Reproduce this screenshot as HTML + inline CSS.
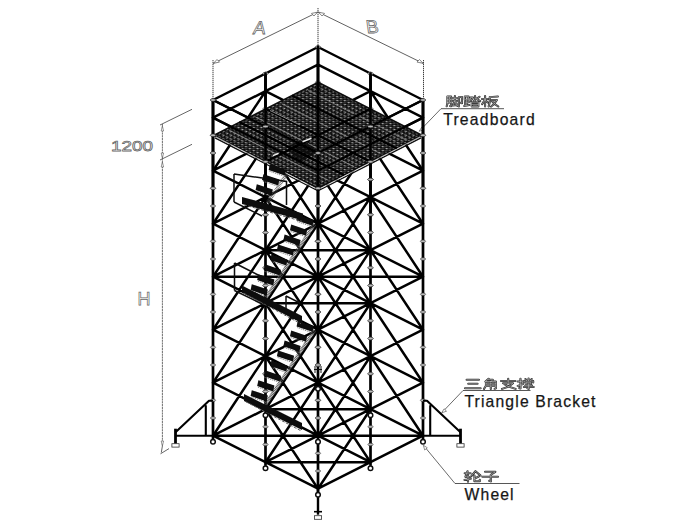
<!DOCTYPE html>
<html><head><meta charset="utf-8"><title>Scaffold tower</title>
<style>html,body{margin:0;padding:0;background:#fff;}body{width:700px;height:525px;overflow:hidden;font-family:"Liberation Sans",sans-serif;}svg{display:block;}</style>
</head><body>
<svg width="700" height="525" viewBox="0 0 700 525">
<defs>
<pattern id="mesh" width="3.8" height="3.8" patternUnits="userSpaceOnUse" patternTransform="matrix(1 0.505 -1 0.505 318 82)">
<rect width="3.8" height="3.8" fill="#0c0c0c"/>
<rect x="0.4" y="0.5" width="2.1" height="1.3" fill="#a8a8a8"/>
<rect x="2.3" y="2.4" width="1.2" height="1.0" fill="#707070"/>
</pattern>
<filter id="soft" x="-5%" y="-5%" width="110%" height="110%"><feGaussianBlur stdDeviation="0.45"/></filter>
</defs>
<rect width="700" height="525" fill="#ffffff"/>
<line x1="213.0" y1="63.5" x2="318.0" y2="12.0" stroke="#444" stroke-width="0.85"/>
<line x1="318.0" y1="12.0" x2="423.5" y2="63.5" stroke="#444" stroke-width="0.85"/>
<line x1="213.0" y1="60.0" x2="213.0" y2="98.0" stroke="#333" stroke-width="0.95" stroke-dasharray="1.3 0.7"/>
<line x1="318.0" y1="8.0" x2="318.0" y2="46.0" stroke="#333" stroke-width="0.95" stroke-dasharray="1.3 0.7"/>
<line x1="423.5" y1="60.0" x2="423.5" y2="98.0" stroke="#333" stroke-width="0.95" stroke-dasharray="1.3 0.7"/>
<path d="M213.5 63.3 l6 -1.2 l-2.5 -2.6 z M317.5 12.2 l-6 1.2 l2.5 2.6 z M318.5 12.2 l6 1.2 l-2.5 2.6 z M423 63.3 l-6 -1.2 l2.5 -2.6 z" fill="#fff" stroke="#555" stroke-width="0.7"/>
<line x1="160.0" y1="125.0" x2="192.0" y2="109.3" stroke="#4a4a4a" stroke-width="0.85"/>
<line x1="160.0" y1="160.0" x2="192.0" y2="144.3" stroke="#4a4a4a" stroke-width="0.85"/>
<line x1="162.4" y1="124.0" x2="162.4" y2="446.0" stroke="#4a4a4a" stroke-width="0.8" stroke-dasharray="2.2 0.6"/>
<path d="M162.4 126 l-1.2 5 l2.4 0 z M162.4 158 l-1.2 -5 l2.4 0 z M162.4 162 l-1.2 5 l2.4 0 z M162.4 446 l-1.2 -5 l2.4 0 z" fill="#fff" stroke="#555" stroke-width="0.6"/>
<line x1="160.5" y1="453.8" x2="169.0" y2="448.6" stroke="#4a4a4a" stroke-width="0.85"/>
<line x1="161.3" y1="452.5" x2="162.4" y2="446.0" stroke="#4a4a4a" stroke-width="0.85"/>
<line x1="441.0" y1="108.7" x2="504.0" y2="108.7" stroke="#444" stroke-width="0.9"/>
<line x1="441.0" y1="108.7" x2="420.0" y2="130.5" stroke="#444" stroke-width="0.8"/>
<line x1="463.0" y1="390.5" x2="530.5" y2="390.5" stroke="#444" stroke-width="0.9"/>
<line x1="463.0" y1="390.5" x2="442.5" y2="412.0" stroke="#444" stroke-width="0.8"/>
<line x1="455.0" y1="483.5" x2="519.5" y2="483.5" stroke="#444" stroke-width="0.9"/>
<line x1="455.0" y1="483.5" x2="424.0" y2="446.0" stroke="#444" stroke-width="0.8"/>
<path d="M419.2 131.3 l4.6 -1.6 l-2.2 -2.4 z M441.7 412.8 l4.8 -1.6 l-2.4 -2.4 z M423.3 445.2 l1.4 4.8 l2.6 -2.2 z" fill="#fff" stroke="#444" stroke-width="0.6"/>
<g filter="url(#soft)">
<g stroke="#050505" stroke-width="2.6" stroke-linecap="round" fill="none">
<path d="M213.0 117.7L265.5 144.2M213.0 117.7L265.5 91.2M213.0 170.7L265.5 197.2M213.0 170.7L265.5 144.2M213.0 223.7L265.5 250.2M213.0 223.7L265.5 197.2M213.0 276.7L265.5 303.2M213.0 276.7L265.5 250.2M213.0 329.7L265.5 356.2M213.0 329.7L265.5 303.2M213.0 382.7L265.5 409.2M213.0 382.7L265.5 356.2M213.0 435.7L265.5 462.2M213.0 435.7L265.5 409.2M265.5 91.2L318.0 117.7M265.5 91.2L318.0 64.7M265.5 144.2L318.0 170.7M265.5 144.2L318.0 117.7M265.5 197.2L318.0 223.7M265.5 197.2L318.0 170.7M265.5 250.2L318.0 276.7M265.5 250.2L318.0 223.7M265.5 303.2L318.0 329.7M265.5 303.2L318.0 276.7M265.5 356.2L318.0 382.7M265.5 356.2L318.0 329.7M265.5 409.2L318.0 435.7M265.5 409.2L318.0 382.7M265.5 462.2L318.0 488.7M265.5 462.2L318.0 435.7M318.0 64.7L370.5 91.2M318.0 117.7L370.5 144.2M318.0 117.7L370.5 91.2M318.0 170.7L370.5 197.2M318.0 170.7L370.5 144.2M318.0 223.7L370.5 250.2M318.0 223.7L370.5 197.2M318.0 276.7L370.5 303.2M318.0 276.7L370.5 250.2M318.0 329.7L370.5 356.2M318.0 329.7L370.5 303.2M318.0 382.7L370.5 409.2M318.0 382.7L370.5 356.2M318.0 435.7L370.5 462.2M318.0 435.7L370.5 409.2M318.0 488.7L370.5 462.2M370.5 91.2L423.0 117.7M370.5 144.2L423.0 170.7M370.5 144.2L423.0 117.7M370.5 197.2L423.0 223.7M370.5 197.2L423.0 170.7M370.5 250.2L423.0 276.7M370.5 250.2L423.0 223.7M370.5 303.2L423.0 329.7M370.5 303.2L423.0 276.7M370.5 356.2L423.0 382.7M370.5 356.2L423.0 329.7M370.5 409.2L423.0 435.7M370.5 409.2L423.0 382.7M370.5 462.2L423.0 435.7M213.0 100.0L318.0 47.0M318.0 47.0L423.0 100.0M423.0 100.0L318.0 153.0M318.0 153.0L213.0 100.0M213.0 170.7L265.5 91.2M213.0 223.7L265.5 144.2M213.0 276.7L265.5 197.2M213.0 329.7L265.5 250.2M213.0 382.7L265.5 303.2M213.0 435.7L265.5 356.2M370.5 91.2L423.0 170.7M370.5 144.2L423.0 223.7M370.5 197.2L423.0 276.7M370.5 250.2L423.0 329.7M370.5 303.2L423.0 382.7M370.5 356.2L423.0 435.7M318.0 223.7L370.5 144.2M318.0 223.7L265.5 144.2M318.0 276.7L370.5 197.2M318.0 276.7L265.5 197.2M318.0 329.7L370.5 250.2M318.0 329.7L265.5 250.2M318.0 382.7L370.5 303.2M318.0 382.7L265.5 303.2M318.0 435.7L370.5 356.2M318.0 435.7L265.5 356.2M318.0 488.7L370.5 409.2M318.0 488.7L265.5 409.2M318.0 170.7L370.5 250.2M318.0 170.7L265.5 250.2M318.0 223.7L370.5 303.2M318.0 223.7L265.5 303.2M318.0 276.7L370.5 356.2M318.0 276.7L265.5 356.2M318.0 329.7L370.5 409.2M318.0 329.7L265.5 409.2M318.0 382.7L370.5 462.2M318.0 382.7L265.5 462.2M213.0 276.7L423.0 276.7M265.5 250.2L370.5 250.2M265.5 303.2L370.5 303.2M213.0 435.7L423.0 435.7M265.5 409.2L370.5 409.2M265.5 462.2L370.5 462.2" stroke-width="2.45"/>
<path d="M318.0 46.5L318.0 385.7M265.5 73.0L265.5 412.2M213.0 99.5L213.0 438.7M370.5 73.0L370.5 412.2M318.0 99.5L318.0 438.7M265.5 126.0L265.5 465.2M423.0 99.5L423.0 438.7M370.5 126.0L370.5 465.2M318.0 152.5L318.0 491.7" stroke-width="2.7"/>
</g>
<g fill="#bdbdbd" stroke="#222" stroke-width="0.5"><ellipse cx="318.0" cy="47.0" rx="2.7" ry="1.25"/><ellipse cx="318.0" cy="82.3" rx="2.7" ry="1.25"/><ellipse cx="318.0" cy="100.0" rx="2.7" ry="1.25"/><ellipse cx="318.0" cy="135.3" rx="2.7" ry="1.25"/><ellipse cx="318.0" cy="153.0" rx="2.7" ry="1.25"/><ellipse cx="318.0" cy="188.3" rx="2.7" ry="1.25"/><ellipse cx="318.0" cy="206.0" rx="2.7" ry="1.25"/><ellipse cx="318.0" cy="241.3" rx="2.7" ry="1.25"/><ellipse cx="318.0" cy="259.0" rx="2.7" ry="1.25"/><ellipse cx="318.0" cy="294.3" rx="2.7" ry="1.25"/><ellipse cx="318.0" cy="312.0" rx="2.7" ry="1.25"/><ellipse cx="318.0" cy="347.3" rx="2.7" ry="1.25"/><ellipse cx="318.0" cy="365.0" rx="2.7" ry="1.25"/><ellipse cx="265.5" cy="73.5" rx="2.7" ry="1.25"/><ellipse cx="265.5" cy="108.8" rx="2.7" ry="1.25"/><ellipse cx="265.5" cy="126.5" rx="2.7" ry="1.25"/><ellipse cx="265.5" cy="161.8" rx="2.7" ry="1.25"/><ellipse cx="265.5" cy="179.5" rx="2.7" ry="1.25"/><ellipse cx="265.5" cy="214.8" rx="2.7" ry="1.25"/><ellipse cx="265.5" cy="232.5" rx="2.7" ry="1.25"/><ellipse cx="265.5" cy="267.8" rx="2.7" ry="1.25"/><ellipse cx="265.5" cy="285.5" rx="2.7" ry="1.25"/><ellipse cx="265.5" cy="320.8" rx="2.7" ry="1.25"/><ellipse cx="265.5" cy="338.5" rx="2.7" ry="1.25"/><ellipse cx="265.5" cy="373.8" rx="2.7" ry="1.25"/><ellipse cx="265.5" cy="391.5" rx="2.7" ry="1.25"/><ellipse cx="213.0" cy="100.0" rx="2.7" ry="1.25"/><ellipse cx="213.0" cy="135.3" rx="2.7" ry="1.25"/><ellipse cx="213.0" cy="153.0" rx="2.7" ry="1.25"/><ellipse cx="213.0" cy="188.3" rx="2.7" ry="1.25"/><ellipse cx="213.0" cy="206.0" rx="2.7" ry="1.25"/><ellipse cx="213.0" cy="241.3" rx="2.7" ry="1.25"/><ellipse cx="213.0" cy="259.0" rx="2.7" ry="1.25"/><ellipse cx="213.0" cy="294.3" rx="2.7" ry="1.25"/><ellipse cx="213.0" cy="312.0" rx="2.7" ry="1.25"/><ellipse cx="213.0" cy="347.3" rx="2.7" ry="1.25"/><ellipse cx="213.0" cy="365.0" rx="2.7" ry="1.25"/><ellipse cx="213.0" cy="400.3" rx="2.7" ry="1.25"/><ellipse cx="213.0" cy="418.0" rx="2.7" ry="1.25"/><ellipse cx="370.5" cy="73.5" rx="2.7" ry="1.25"/><ellipse cx="370.5" cy="108.8" rx="2.7" ry="1.25"/><ellipse cx="370.5" cy="126.5" rx="2.7" ry="1.25"/><ellipse cx="370.5" cy="161.8" rx="2.7" ry="1.25"/><ellipse cx="370.5" cy="179.5" rx="2.7" ry="1.25"/><ellipse cx="370.5" cy="214.8" rx="2.7" ry="1.25"/><ellipse cx="370.5" cy="232.5" rx="2.7" ry="1.25"/><ellipse cx="370.5" cy="267.8" rx="2.7" ry="1.25"/><ellipse cx="370.5" cy="285.5" rx="2.7" ry="1.25"/><ellipse cx="370.5" cy="320.8" rx="2.7" ry="1.25"/><ellipse cx="370.5" cy="338.5" rx="2.7" ry="1.25"/><ellipse cx="370.5" cy="373.8" rx="2.7" ry="1.25"/><ellipse cx="370.5" cy="391.5" rx="2.7" ry="1.25"/><ellipse cx="318.0" cy="100.0" rx="2.7" ry="1.25"/><ellipse cx="318.0" cy="135.3" rx="2.7" ry="1.25"/><ellipse cx="318.0" cy="153.0" rx="2.7" ry="1.25"/><ellipse cx="318.0" cy="188.3" rx="2.7" ry="1.25"/><ellipse cx="318.0" cy="206.0" rx="2.7" ry="1.25"/><ellipse cx="318.0" cy="241.3" rx="2.7" ry="1.25"/><ellipse cx="318.0" cy="259.0" rx="2.7" ry="1.25"/><ellipse cx="318.0" cy="294.3" rx="2.7" ry="1.25"/><ellipse cx="318.0" cy="312.0" rx="2.7" ry="1.25"/><ellipse cx="318.0" cy="347.3" rx="2.7" ry="1.25"/><ellipse cx="318.0" cy="365.0" rx="2.7" ry="1.25"/><ellipse cx="318.0" cy="400.3" rx="2.7" ry="1.25"/><ellipse cx="318.0" cy="418.0" rx="2.7" ry="1.25"/><ellipse cx="265.5" cy="126.5" rx="2.7" ry="1.25"/><ellipse cx="265.5" cy="161.8" rx="2.7" ry="1.25"/><ellipse cx="265.5" cy="179.5" rx="2.7" ry="1.25"/><ellipse cx="265.5" cy="214.8" rx="2.7" ry="1.25"/><ellipse cx="265.5" cy="232.5" rx="2.7" ry="1.25"/><ellipse cx="265.5" cy="267.8" rx="2.7" ry="1.25"/><ellipse cx="265.5" cy="285.5" rx="2.7" ry="1.25"/><ellipse cx="265.5" cy="320.8" rx="2.7" ry="1.25"/><ellipse cx="265.5" cy="338.5" rx="2.7" ry="1.25"/><ellipse cx="265.5" cy="373.8" rx="2.7" ry="1.25"/><ellipse cx="265.5" cy="391.5" rx="2.7" ry="1.25"/><ellipse cx="265.5" cy="426.8" rx="2.7" ry="1.25"/><ellipse cx="265.5" cy="444.5" rx="2.7" ry="1.25"/><ellipse cx="423.0" cy="100.0" rx="2.7" ry="1.25"/><ellipse cx="423.0" cy="135.3" rx="2.7" ry="1.25"/><ellipse cx="423.0" cy="153.0" rx="2.7" ry="1.25"/><ellipse cx="423.0" cy="188.3" rx="2.7" ry="1.25"/><ellipse cx="423.0" cy="206.0" rx="2.7" ry="1.25"/><ellipse cx="423.0" cy="241.3" rx="2.7" ry="1.25"/><ellipse cx="423.0" cy="259.0" rx="2.7" ry="1.25"/><ellipse cx="423.0" cy="294.3" rx="2.7" ry="1.25"/><ellipse cx="423.0" cy="312.0" rx="2.7" ry="1.25"/><ellipse cx="423.0" cy="347.3" rx="2.7" ry="1.25"/><ellipse cx="423.0" cy="365.0" rx="2.7" ry="1.25"/><ellipse cx="423.0" cy="400.3" rx="2.7" ry="1.25"/><ellipse cx="423.0" cy="418.0" rx="2.7" ry="1.25"/><ellipse cx="370.5" cy="126.5" rx="2.7" ry="1.25"/><ellipse cx="370.5" cy="161.8" rx="2.7" ry="1.25"/><ellipse cx="370.5" cy="179.5" rx="2.7" ry="1.25"/><ellipse cx="370.5" cy="214.8" rx="2.7" ry="1.25"/><ellipse cx="370.5" cy="232.5" rx="2.7" ry="1.25"/><ellipse cx="370.5" cy="267.8" rx="2.7" ry="1.25"/><ellipse cx="370.5" cy="285.5" rx="2.7" ry="1.25"/><ellipse cx="370.5" cy="320.8" rx="2.7" ry="1.25"/><ellipse cx="370.5" cy="338.5" rx="2.7" ry="1.25"/><ellipse cx="370.5" cy="373.8" rx="2.7" ry="1.25"/><ellipse cx="370.5" cy="391.5" rx="2.7" ry="1.25"/><ellipse cx="370.5" cy="426.8" rx="2.7" ry="1.25"/><ellipse cx="370.5" cy="444.5" rx="2.7" ry="1.25"/><ellipse cx="318.0" cy="153.0" rx="2.7" ry="1.25"/><ellipse cx="318.0" cy="188.3" rx="2.7" ry="1.25"/><ellipse cx="318.0" cy="206.0" rx="2.7" ry="1.25"/><ellipse cx="318.0" cy="241.3" rx="2.7" ry="1.25"/><ellipse cx="318.0" cy="259.0" rx="2.7" ry="1.25"/><ellipse cx="318.0" cy="294.3" rx="2.7" ry="1.25"/><ellipse cx="318.0" cy="312.0" rx="2.7" ry="1.25"/><ellipse cx="318.0" cy="347.3" rx="2.7" ry="1.25"/><ellipse cx="318.0" cy="365.0" rx="2.7" ry="1.25"/><ellipse cx="318.0" cy="400.3" rx="2.7" ry="1.25"/><ellipse cx="318.0" cy="418.0" rx="2.7" ry="1.25"/><ellipse cx="318.0" cy="453.3" rx="2.7" ry="1.25"/><ellipse cx="318.0" cy="471.0" rx="2.7" ry="1.25"/></g>
<path d="M318.0 82.3L422.0 135.3L318.0 188.3L214.0 135.3Z" fill="url(#mesh)" stroke="#0a0a0a" stroke-width="1.6"/>
<path d="M215.0 137.9L318.0 190.9L421.0 137.9" fill="none" stroke="#0a0a0a" stroke-width="1.2"/>
<path d="M216.0 136.8L318.0 189.7L420.0 136.8" fill="none" stroke="#e0e0e0" stroke-width="0.7"/>
<path d="M287 147 L305 137.5 L317.5 152 L299 163.5 Z" fill="#050505" fill-opacity="0.72"/>
<path d="M291.8 95.6L396.8 148.6M265.5 108.8L370.5 161.8M239.2 122.1L344.2 175.1M370.5 108.8L265.5 161.8" stroke="#000" stroke-width="2.2" fill="none"/>
<path d="M308.0 90.5L354.2 113.9M360.5 117.0L406.7 140.4M281.8 103.8L328.0 127.1M334.3 130.3L380.5 153.6M255.5 117.0L301.7 140.4M308.0 143.5L354.2 166.9M229.3 130.3L275.5 153.6M281.8 156.8L328.0 180.1" stroke="#8c8c8c" stroke-width="0.8" fill="none"/>
<path d="M213.0 100.0L213.0 188.3M265.5 126.5L265.5 214.8M318.0 153.0L318.0 241.3M370.5 126.5L370.5 214.8M423.0 100.0L423.0 188.3M318.0 100.0L318.0 188.3M318.0 47.0L318.0 135.3M265.5 73.5L265.5 161.8M370.5 73.5L370.5 161.8" stroke="#050505" stroke-width="2.7" fill="none" stroke-linecap="round"/>
<path d="M213.0 100.0L318.0 153.0M318.0 153.0L423.0 100.0M213.0 117.7L318.0 170.7M318.0 170.7L423.0 117.7" stroke="#050505" stroke-width="2.3" fill="none" stroke-linecap="round"/>
<g fill="#bdbdbd" stroke="#222" stroke-width="0.5"><ellipse cx="213.0" cy="100.0" rx="2.7" ry="1.25"/><ellipse cx="213.0" cy="135.3" rx="2.7" ry="1.25"/><ellipse cx="213.0" cy="153.0" rx="2.7" ry="1.25"/><ellipse cx="213.0" cy="188.3" rx="2.7" ry="1.25"/><ellipse cx="265.5" cy="126.5" rx="2.7" ry="1.25"/><ellipse cx="265.5" cy="161.8" rx="2.7" ry="1.25"/><ellipse cx="265.5" cy="179.5" rx="2.7" ry="1.25"/><ellipse cx="265.5" cy="214.8" rx="2.7" ry="1.25"/><ellipse cx="318.0" cy="153.0" rx="2.7" ry="1.25"/><ellipse cx="318.0" cy="188.3" rx="2.7" ry="1.25"/><ellipse cx="318.0" cy="206.0" rx="2.7" ry="1.25"/><ellipse cx="318.0" cy="241.3" rx="2.7" ry="1.25"/><ellipse cx="370.5" cy="126.5" rx="2.7" ry="1.25"/><ellipse cx="370.5" cy="161.8" rx="2.7" ry="1.25"/><ellipse cx="370.5" cy="179.5" rx="2.7" ry="1.25"/><ellipse cx="370.5" cy="214.8" rx="2.7" ry="1.25"/><ellipse cx="423.0" cy="100.0" rx="2.7" ry="1.25"/><ellipse cx="423.0" cy="135.3" rx="2.7" ry="1.25"/><ellipse cx="423.0" cy="153.0" rx="2.7" ry="1.25"/><ellipse cx="423.0" cy="188.3" rx="2.7" ry="1.25"/></g>
<path d="M270 110.5 L300 125" stroke="#9a9a9a" stroke-width="0.9" fill="none"/><path d="M302.5 141.8 L311.5 138.2 M273 155.6 L278.6 153.2" stroke="#eee" stroke-width="1.5" fill="none"/>
<line x1="314.6" y1="224.2" x2="262.1" y2="303.7" stroke="#4a4a4a" stroke-width="3.6" stroke-dasharray="0.8 0.7"/>
<path d="M313.8 220.0 l-16.0 -5.4 l-1.2 5.8 l16.0 5.4 z" fill="#080808"/>
<path d="M297.3 221.6 l14.0 4.8" stroke="#777" stroke-width="0.9" stroke-dasharray="1.2 0.8"/>
<path d="M307.2 229.9 l-16.0 -5.4 l-1.2 5.8 l16.0 5.4 z" fill="#080808"/>
<path d="M290.7 231.5 l14.0 4.8" stroke="#777" stroke-width="0.9" stroke-dasharray="1.2 0.8"/>
<path d="M300.6 239.9 l-16.0 -5.4 l-1.2 5.8 l16.0 5.4 z" fill="#080808"/>
<path d="M284.1 241.4 l14.0 4.8" stroke="#777" stroke-width="0.9" stroke-dasharray="1.2 0.8"/>
<path d="M294.1 249.8 l-16.0 -5.4 l-1.2 5.8 l16.0 5.4 z" fill="#080808"/>
<path d="M277.6 251.4 l14.0 4.8" stroke="#777" stroke-width="0.9" stroke-dasharray="1.2 0.8"/>
<path d="M287.5 259.7 l-16.0 -5.4 l-1.2 5.8 l16.0 5.4 z" fill="#080808"/>
<path d="M271.0 261.3 l14.0 4.8" stroke="#777" stroke-width="0.9" stroke-dasharray="1.2 0.8"/>
<path d="M280.9 269.7 l-16.0 -5.4 l-1.2 5.8 l16.0 5.4 z" fill="#080808"/>
<path d="M264.4 271.2 l14.0 4.8" stroke="#777" stroke-width="0.9" stroke-dasharray="1.2 0.8"/>
<path d="M274.4 279.6 l-16.0 -5.4 l-1.2 5.8 l16.0 5.4 z" fill="#080808"/>
<path d="M257.9 281.2 l14.0 4.8" stroke="#777" stroke-width="0.9" stroke-dasharray="1.2 0.8"/>
<path d="M267.8 289.6 l-16.0 -5.4 l-1.2 5.8 l16.0 5.4 z" fill="#080808"/>
<path d="M251.3 291.1 l14.0 4.8" stroke="#777" stroke-width="0.9" stroke-dasharray="1.2 0.8"/>
<line x1="314.6" y1="330.2" x2="262.1" y2="409.7" stroke="#4a4a4a" stroke-width="3.6" stroke-dasharray="0.8 0.7"/>
<path d="M313.8 326.0 l-16.0 -5.4 l-1.2 5.8 l16.0 5.4 z" fill="#080808"/>
<path d="M297.3 327.6 l14.0 4.8" stroke="#777" stroke-width="0.9" stroke-dasharray="1.2 0.8"/>
<path d="M307.2 335.9 l-16.0 -5.4 l-1.2 5.8 l16.0 5.4 z" fill="#080808"/>
<path d="M290.7 337.5 l14.0 4.8" stroke="#777" stroke-width="0.9" stroke-dasharray="1.2 0.8"/>
<path d="M300.6 345.9 l-16.0 -5.4 l-1.2 5.8 l16.0 5.4 z" fill="#080808"/>
<path d="M284.1 347.4 l14.0 4.8" stroke="#777" stroke-width="0.9" stroke-dasharray="1.2 0.8"/>
<path d="M294.1 355.8 l-16.0 -5.4 l-1.2 5.8 l16.0 5.4 z" fill="#080808"/>
<path d="M277.6 357.4 l14.0 4.8" stroke="#777" stroke-width="0.9" stroke-dasharray="1.2 0.8"/>
<path d="M287.5 365.7 l-16.0 -5.4 l-1.2 5.8 l16.0 5.4 z" fill="#080808"/>
<path d="M271.0 367.3 l14.0 4.8" stroke="#777" stroke-width="0.9" stroke-dasharray="1.2 0.8"/>
<path d="M280.9 375.7 l-16.0 -5.4 l-1.2 5.8 l16.0 5.4 z" fill="#080808"/>
<path d="M264.4 377.2 l14.0 4.8" stroke="#777" stroke-width="0.9" stroke-dasharray="1.2 0.8"/>
<path d="M274.4 385.6 l-16.0 -5.4 l-1.2 5.8 l16.0 5.4 z" fill="#080808"/>
<path d="M257.9 387.2 l14.0 4.8" stroke="#777" stroke-width="0.9" stroke-dasharray="1.2 0.8"/>
<path d="M267.8 395.6 l-16.0 -5.4 l-1.2 5.8 l16.0 5.4 z" fill="#080808"/>
<path d="M251.3 397.1 l14.0 4.8" stroke="#777" stroke-width="0.9" stroke-dasharray="1.2 0.8"/>
<line x1="286.8" y1="173.9" x2="267.1" y2="203.7" stroke="#4a4a4a" stroke-width="3.6" stroke-dasharray="0.8 0.7"/>
<path d="M285.9 169.7 l-16.0 -5.4 l-1.2 5.8 l16.0 5.4 z" fill="#080808"/>
<path d="M269.4 171.2 l14.0 4.8" stroke="#777" stroke-width="0.9" stroke-dasharray="1.2 0.8"/>
<path d="M279.4 179.6 l-16.0 -5.4 l-1.2 5.8 l16.0 5.4 z" fill="#080808"/>
<path d="M262.9 181.2 l14.0 4.8" stroke="#777" stroke-width="0.9" stroke-dasharray="1.2 0.8"/>
<path d="M272.8 189.6 l-16.0 -5.4 l-1.2 5.8 l16.0 5.4 z" fill="#080808"/>
<path d="M256.3 191.1 l14.0 4.8" stroke="#777" stroke-width="0.9" stroke-dasharray="1.2 0.8"/>
<path d="M242 197 L303 213.5 l0 7 L242 204 z" fill="#0a0a0a"/><path d="M244 204.8 L302 221.3" stroke="#555" stroke-width="1" stroke-dasharray="3 1.5"/>
<path d="M242 285.5 L302 316 l0 7 L242 292.5 z" fill="#0a0a0a"/><path d="M244 293.3 L301 323.8" stroke="#555" stroke-width="1" stroke-dasharray="3 1.5"/>
<path d="M244 394 L302 423 l0 7 L244 401 z" fill="#0a0a0a"/><path d="M246 401.8 L301 430.8" stroke="#555" stroke-width="1" stroke-dasharray="3 1.5"/>
<path d="M234 174 L234 202 M234 174 L286.5 181.5 L286.5 205 M234 202 L262 216" stroke="#0c0c0c" stroke-width="1.5" fill="none"/>
<path d="M234.5 263 L234.5 290.5 M234.5 263 L266 279 M234.5 290.5 L262 304" stroke="#0c0c0c" stroke-width="1.5" fill="none"/>
<path d="M286 296 L286 312 M286 296 L300 303" stroke="#0c0c0c" stroke-width="1.5" fill="none"/>
<path d="M213.0 435.7L175.5 435.7M175.5 432.2L209.0 400.8L213.0 400.8M205.8 405.3L205.8 435.7M423.0 435.7L460.5 435.7M460.5 432.2L427.0 400.8L423.0 400.8M430.2 405.3L430.2 435.7" stroke="#050505" stroke-width="2.1" fill="none" stroke-linejoin="round"/>
<line x1="175.5" y1="428.7" x2="175.5" y2="443.7" stroke="#050505" stroke-width="2.8"/>
<rect x="171.9" y="443.7" width="7.2" height="3.4" fill="#fff" stroke="#333" stroke-width="0.8"/>
<line x1="460.5" y1="428.7" x2="460.5" y2="443.7" stroke="#050505" stroke-width="2.8"/>
<rect x="456.9" y="443.7" width="7.2" height="3.4" fill="#fff" stroke="#333" stroke-width="0.8"/>
<circle cx="213.0" cy="441.7" r="2.3" fill="#fff" stroke="#111" stroke-width="1.5"/>
<circle cx="265.5" cy="468.2" r="2.3" fill="#fff" stroke="#111" stroke-width="1.5"/>
<circle cx="370.5" cy="468.2" r="2.3" fill="#fff" stroke="#111" stroke-width="1.5"/>
<circle cx="423.0" cy="441.7" r="2.3" fill="#fff" stroke="#111" stroke-width="1.5"/>
<circle cx="265.5" cy="415.2" r="2.3" fill="#fff" stroke="#111" stroke-width="1.5"/>
<circle cx="370.5" cy="415.2" r="2.3" fill="#fff" stroke="#111" stroke-width="1.5"/>
<circle cx="318.0" cy="441.7" r="2.3" fill="#fff" stroke="#111" stroke-width="1.5"/>
<circle cx="318.0" cy="388.7" r="2.3" fill="#fff" stroke="#111" stroke-width="1.5"/>
<line x1="318.0" y1="488.7" x2="318.0" y2="514.7" stroke="#050505" stroke-width="2.4"/>
<circle cx="318.0" cy="494.7" r="2.3" fill="#fff" stroke="#111" stroke-width="1.5"/>
<line x1="314.0" y1="511.7" x2="322.0" y2="511.7" stroke="#050505" stroke-width="1.6"/>
<rect x="314.4" y="515.7" width="7.2" height="3.6" fill="#fff" stroke="#333" stroke-width="0.8"/>
<path d="M315 366 l0 7 M321 366 l0 7 M314 369.5 l8 0" stroke="#111" stroke-width="1" fill="none"/>
</g>
<g font-family="'Liberation Sans', sans-serif" fill="#161616" stroke="#161616" stroke-width="0.25">
<text x="443.2" y="124.5" font-size="15.7" textLength="91.5" lengthAdjust="spacing">Treadboard</text>
<text x="464.4" y="406.6" font-size="15.7" textLength="131" lengthAdjust="spacing">Triangle Bracket</text>
<text x="464.6" y="499.9" font-size="15.7" textLength="49" lengthAdjust="spacing">Wheel</text>
</g>
<g font-family="'Liberation Sans', sans-serif" fill="#fff" stroke="#666" stroke-width="0.75">
<text x="252.5" y="34.3" font-size="18.5" transform="skewX(-8)" style="transform-origin:259px 34px">A</text>
<text x="367" y="33.5" font-size="18.5" transform="skewX(8)" style="transform-origin:373px 33px">B</text>
<text x="111" y="151.3" font-size="15.5" textLength="42" lengthAdjust="spacingAndGlyphs">1200</text>
<text x="137.5" y="305" font-size="19" textLength="13" lengthAdjust="spacingAndGlyphs">H</text>
</g>
<g fill="none" stroke-linecap="round" stroke-linejoin="round"><g stroke="#2e2e2e" stroke-width="2.1"><path transform="translate(446.4 95.6) scale(1.025 0.950)" d="M1 1L1 8L0.3 11.3M1 1L4.6 1L4.6 11.3L3.6 11M1 4.2L4.6 4.2M1 7.2L4.6 7.2M6 2.8L10.6 2.8M8.3 0.5L8.3 5.8M5.6 5.8L11 5.8M8.2 5.8L6.2 10.4L10.6 9.9M9.6 8.2L10.9 11M12.2 1.4L15.2 1.4L15.2 8L14 7.6M12.2 1.4L12.2 11.6"/><path transform="translate(464.2 95.6) scale(1.025 0.950)" d="M0.6 1L4.2 1L4.2 4.4L0.6 4.4ZM2.4 4.4L2.4 10.2M2.4 7L4.5 7M0.9 6.4L0.9 10.6M0 11L5 10M10.6 0.4L10.6 5.6L9.6 5.3M6.2 2L8.6 2L6.2 5.8M15 1.2L12 3.4M11.2 3L15.6 5.8M7.4 6.9L13.8 6.9L13.8 11.5L7.4 11.5ZM7.4 9.2L13.8 9.2"/><path transform="translate(482.0 95.6) scale(1.025 0.950)" d="M0 3.5L6 3.5M3 0.5L3 11.6M3 4L0.1 9M3.1 4.6L5.8 7.4M7.6 1.6L15.5 1M7.6 1.6L7.6 6.5L6.5 11.5M9 4.6L14.5 4.6L12 8.5L8.8 11.6M9.9 6L12 8.5L15.9 11.5"/><path transform="translate(464.6 378.3) scale(1.025 0.917)" d="M2 1.6L14 1.6M3.6 6L12.6 6M0.4 10.9L15.6 10.9"/><path transform="translate(482.3 378.3) scale(1.025 0.917)" d="M6.2 0.4L3 3.6M5.6 1.5L10.2 1.5L8.6 3.5M3.6 3.5L13.2 3.5L13.2 11L12 11.5M3.6 3.5L3.6 8L1.6 11.6M3.6 6L13.2 6M3.6 8.5L13.2 8.5M8.3 3.5L8.3 11.6"/><path transform="translate(500.0 378.3) scale(1.025 0.917)" d="M1 2.9L15 2.9M8 0.4L8 5.4M3 5.4L12.6 5.4L8.5 9L2 11.6M4.6 6.8L8.5 9L15.2 11.6"/><path transform="translate(517.7 378.3) scale(1.025 0.917)" d="M0 3.4L5.2 3.4M2.7 0.4L2.7 11.2L1.5 10.6M0 8.2L5.2 6.4M10.6 0.2L10.6 2.6M7.6 0.7L8.6 2.5M13.6 0.7L12.6 2.5M6.3 4.6L6.3 3L15.1 3L15.1 4.6M8.5 4.4L12.9 4.4L12.9 6.2L8.5 6.2ZM7.4 7.7L14 7.7M6 9.4L15.6 9.4M10.7 6.2L10.7 11.6L9.5 11.1"/><path transform="translate(464.2 470.8) scale(1.025 0.950)" d="M0.5 2.5L6.2 2.5M3.3 0.4L1.2 6.4L6.2 6.4M3.7 4L3.7 11.6M0.2 9.6L6.4 8.5M11 0.4L7 5.5M11 0.4L15.9 5M10 5L10 10.9L15.2 10.9L15.2 9.4M14.2 6L10 8.2"/><path transform="translate(482.0 470.8) scale(1.025 0.950)" d="M3 1.1L13 1.1L8.6 4.2M8.6 4.2L8.6 11.2L7 10.5M0.4 6.3L15.6 6.3"/></g><g stroke="#e8e8e8" stroke-width="0.5"><path transform="translate(446.4 95.6) scale(1.025 0.950)" d="M1 1L1 8L0.3 11.3M1 1L4.6 1L4.6 11.3L3.6 11M1 4.2L4.6 4.2M1 7.2L4.6 7.2M6 2.8L10.6 2.8M8.3 0.5L8.3 5.8M5.6 5.8L11 5.8M8.2 5.8L6.2 10.4L10.6 9.9M9.6 8.2L10.9 11M12.2 1.4L15.2 1.4L15.2 8L14 7.6M12.2 1.4L12.2 11.6"/><path transform="translate(464.2 95.6) scale(1.025 0.950)" d="M0.6 1L4.2 1L4.2 4.4L0.6 4.4ZM2.4 4.4L2.4 10.2M2.4 7L4.5 7M0.9 6.4L0.9 10.6M0 11L5 10M10.6 0.4L10.6 5.6L9.6 5.3M6.2 2L8.6 2L6.2 5.8M15 1.2L12 3.4M11.2 3L15.6 5.8M7.4 6.9L13.8 6.9L13.8 11.5L7.4 11.5ZM7.4 9.2L13.8 9.2"/><path transform="translate(482.0 95.6) scale(1.025 0.950)" d="M0 3.5L6 3.5M3 0.5L3 11.6M3 4L0.1 9M3.1 4.6L5.8 7.4M7.6 1.6L15.5 1M7.6 1.6L7.6 6.5L6.5 11.5M9 4.6L14.5 4.6L12 8.5L8.8 11.6M9.9 6L12 8.5L15.9 11.5"/><path transform="translate(464.6 378.3) scale(1.025 0.917)" d="M2 1.6L14 1.6M3.6 6L12.6 6M0.4 10.9L15.6 10.9"/><path transform="translate(482.3 378.3) scale(1.025 0.917)" d="M6.2 0.4L3 3.6M5.6 1.5L10.2 1.5L8.6 3.5M3.6 3.5L13.2 3.5L13.2 11L12 11.5M3.6 3.5L3.6 8L1.6 11.6M3.6 6L13.2 6M3.6 8.5L13.2 8.5M8.3 3.5L8.3 11.6"/><path transform="translate(500.0 378.3) scale(1.025 0.917)" d="M1 2.9L15 2.9M8 0.4L8 5.4M3 5.4L12.6 5.4L8.5 9L2 11.6M4.6 6.8L8.5 9L15.2 11.6"/><path transform="translate(517.7 378.3) scale(1.025 0.917)" d="M0 3.4L5.2 3.4M2.7 0.4L2.7 11.2L1.5 10.6M0 8.2L5.2 6.4M10.6 0.2L10.6 2.6M7.6 0.7L8.6 2.5M13.6 0.7L12.6 2.5M6.3 4.6L6.3 3L15.1 3L15.1 4.6M8.5 4.4L12.9 4.4L12.9 6.2L8.5 6.2ZM7.4 7.7L14 7.7M6 9.4L15.6 9.4M10.7 6.2L10.7 11.6L9.5 11.1"/><path transform="translate(464.2 470.8) scale(1.025 0.950)" d="M0.5 2.5L6.2 2.5M3.3 0.4L1.2 6.4L6.2 6.4M3.7 4L3.7 11.6M0.2 9.6L6.4 8.5M11 0.4L7 5.5M11 0.4L15.9 5M10 5L10 10.9L15.2 10.9L15.2 9.4M14.2 6L10 8.2"/><path transform="translate(482.0 470.8) scale(1.025 0.950)" d="M3 1.1L13 1.1L8.6 4.2M8.6 4.2L8.6 11.2L7 10.5M0.4 6.3L15.6 6.3"/></g></g>
</svg>
</body></html>
